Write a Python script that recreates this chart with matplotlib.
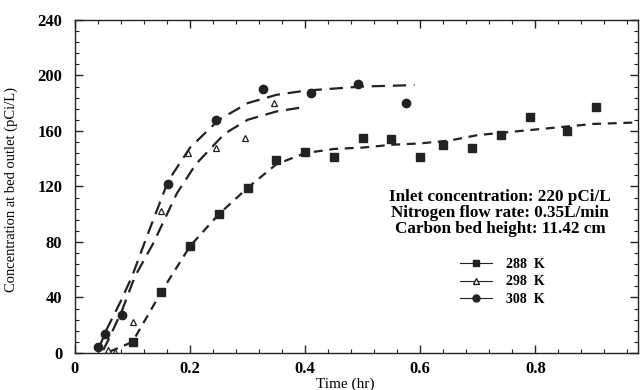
import matplotlib
matplotlib.use("Agg")
import matplotlib.pyplot as plt
from matplotlib.ticker import MultipleLocator

# ---- data ----
t288 = [0.10, 0.15, 0.20, 0.25, 0.30, 0.35, 0.40, 0.45, 0.50, 0.55, 0.60, 0.64, 0.69, 0.74, 0.79, 0.855, 0.905]
c288 = [8, 44, 77, 100, 119, 139, 145, 141, 155, 154, 141, 150, 148, 157, 170, 160, 177]
t298 = [0.057, 0.07, 0.10, 0.15, 0.197, 0.245, 0.295, 0.345]
c298 = [2, 1, 22, 102, 144, 148, 155, 180]
t308 = [0.04, 0.052, 0.082, 0.162, 0.245, 0.327, 0.41, 0.492, 0.575]
c308 = [4, 14, 27, 122, 168, 190, 187, 194, 180]

# fitted curves
ft288 = [0.06, 0.078, 0.10, 0.15, 0.20, 0.25, 0.30, 0.35, 0.40, 0.45, 0.50, 0.55, 0.60, 0.65, 0.70, 0.75, 0.80, 0.85, 0.90, 0.97]
fc288 = [1, 4, 8, 44, 77, 100, 119, 136, 144, 147, 148, 150, 151, 153, 157, 159, 161, 163, 165, 166]
ft298 = [0.049, 0.061, 0.082, 0.104, 0.136, 0.177, 0.21, 0.26, 0.30, 0.35, 0.395]
fc298 = [2, 12, 31, 55, 79, 115, 136, 158, 168, 174, 177]
ft308 = [0.04, 0.055, 0.078, 0.099, 0.125, 0.162, 0.20, 0.25, 0.30, 0.35, 0.40, 0.50, 0.59]
fc308 = [2, 17, 36, 55, 84, 124, 148, 168, 180, 186, 189, 192, 193]

labels = ["288  K", "298  K", "308  K"]
info = ["Inlet concentration: 220 pCi/L",
        "Nitrogen flow rate: 0.35L/min",
        "Carbon bed height: 11.42 cm"]

plt.rcParams['font.family'] = ['Liberation Serif', 'DejaVu Serif']

fig = plt.figure(figsize=(6.41, 3.90), dpi=100)
ax = fig.add_axes([0.117, 0.095, 0.878, 0.854])

col = '#222222'
ax.plot(ft288, fc288, linestyle=(0, (4, 3)), color=col, lw=1.6)
ax.plot(ft298, fc298, linestyle=(0, (6, 3.5)), color=col, lw=1.6)
ax.plot(ft308, fc308, linestyle=(0, (6, 3.5)), color=col, lw=1.6)

ax.plot(t288, c288, 's', color=col, ms=5.5, ls='none')
ax.plot(t298, c298, '^', mfc='white', mec=col, ms=5, mew=0.9, ls='none')
ax.plot(t308, c308, 'o', color=col, ms=6, ls='none')

# legend handles
h1, = ax.plot([], [], 's-', color=col, ms=4.5, lw=0.8)
h2, = ax.plot([], [], '^-', color=col, mfc='white', ms=5, lw=0.8)
h3, = ax.plot([], [], 'o-', color=col, ms=5, lw=0.8)
leg = ax.legend([h1, h2, h3], labels, loc='upper left', bbox_to_anchor=(0.684, 0.285),
                frameon=False, handlelength=2.3, handletextpad=1.0,
                labelspacing=0.32, borderpad=0, borderaxespad=0,
                prop={'weight': 'bold', 'size': 10})

ax.text(0.755, 0.42, "\n".join(info), transform=ax.transAxes, ha='center', va='center',
        fontsize=12.3, fontweight='bold', linespacing=1.0)

ax.set_xlim(0, 0.978)
ax.set_ylim(0, 240)
ax.xaxis.set_major_locator(MultipleLocator(0.2))
ax.xaxis.set_minor_locator(MultipleLocator(0.04))
ax.yaxis.set_major_locator(MultipleLocator(40))
ax.yaxis.set_minor_locator(MultipleLocator(8))
ax.tick_params(which='both', direction='in', top=True, right=True, color=col)
ax.tick_params(which='major', length=6, width=1.0)
ax.tick_params(which='minor', length=3, width=0.8)
ax.set_xticks([0, 0.2, 0.4, 0.6, 0.8])
ax.set_xticklabels(['0', '0.2', '0.4', '0.6', '0.8'], fontsize=12, fontweight='bold')
ax.set_yticks([0, 40, 80, 120, 160, 200, 240])
ax.set_yticklabels(['0', '40', '80', '120', '160', '200', '240'], fontsize=12, fontweight='bold')
ax.tick_params(axis='x', pad=6)
ax.tick_params(axis='y', pad=9)
for s in ax.spines.values():
    s.set_linewidth(1.0)
    s.set_color(col)

ax.set_xlabel("Time (hr)", fontsize=11)
ax.xaxis.set_label_coords(0.48, -0.075)
ax.set_ylabel("Concentration at bed outlet (pCi/L)", fontsize=10.5)
ax.yaxis.set_label_coords(-0.102, 0.49)

fig.savefig("out.png", dpi=100)
